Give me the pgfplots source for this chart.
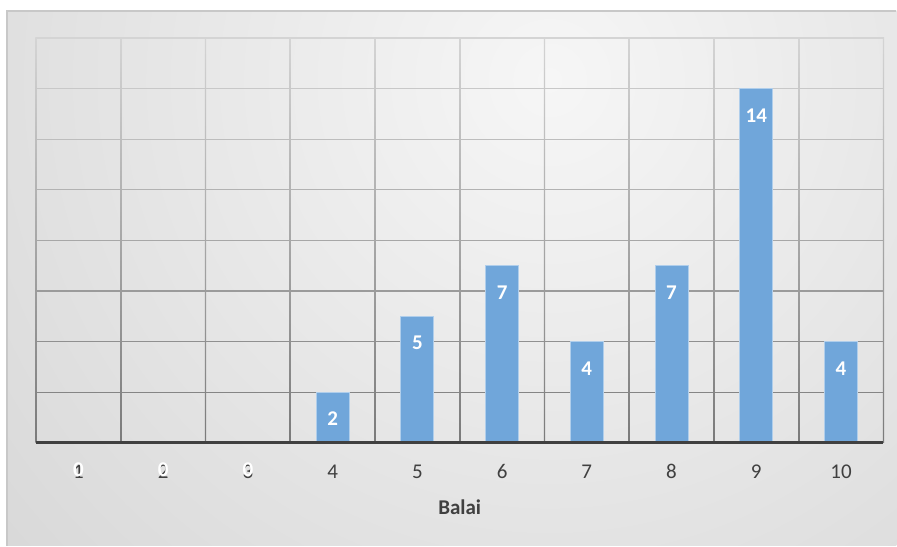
\documentclass[border=0pt]{standalone}
\usepackage{pgfplots}
\pgfplotsset{compat=1.18}
\usepackage{fontspec}
\setmainfont{Carlito}
\definecolor{barblue}{RGB}{112,166,218}
\definecolor{labgray}{RGB}{64,64,64}
\definecolor{bgdark}{RGB}{188,188,188}
\definecolor{bglight}{RGB}{246,246,246}
\definecolor{griddark}{RGB}{122,122,122}
\definecolor{gridlight}{RGB}{212,212,212}
\definecolor{bordergray}{RGB}{200,200,200}
\begin{document}
\begin{tikzpicture}
\fill[white] (0,0) rectangle (448.5pt,273pt);
\begin{scope}
\clip (3.5pt,0) rectangle (448.5pt,267.5pt);
\shade[inner color=bglight, outer color=bgdark] (275pt,233pt) circle (710pt);
\end{scope}
\draw[bordergray, line width=0.6pt] (3.5pt,0) -- (3.5pt,267.5pt) -- (448.5pt,267.5pt);
\begin{axis}[
  at={(18pt,51.5pt)}, anchor=south west,
  scale only axis, width=424pt, height=202.5pt,
  xmin=0.5, xmax=10.5, ymin=0, ymax=16,
  axis on top=true,
  clip=false,
  ybar, bar width=16.5pt, bar shift=0pt,
  axis line style={draw=none},
  ytick={0,2,...,16}, yticklabels={},
  xtick={1,2,3,4,5,6,7,8,9,10}, xticklabels={1,2,3,4,5,6,7,8,9,10},
  major tick length=0pt,
  /pgf/number format/assume math mode=true,
  xticklabel style={font=\fontsize{10.5}{12}\selectfont, text=labgray, anchor=center, yshift=-14.5pt},
  xlabel={Balai},
  xlabel style={font=\bfseries\fontsize{10.5}{12}\selectfont, text=labgray, at={(axis description cs:0.5,0)}, anchor=center, yshift=-32.5pt},
  nodes near coords,
  every node near coord/.append style={anchor=center, yshift=-13.5pt, text=white, font=\bfseries\fontsize{10.5}{12}\selectfont},
]
% grid lines (gradient from light at top to dark at bottom)
\pgfplotsinvokeforeach{0.5,1.5,...,10.5}{
  \shade[top color=gridlight, bottom color=griddark] ([xshift=-0.3pt]axis cs:#1,0) rectangle ([xshift=0.3pt]axis cs:#1,16);
}
\draw[line width=0.6pt, color=gridlight!12!griddark] (axis cs:0.5,2) -- (axis cs:10.5,2);
\draw[line width=0.6pt, color=gridlight!25!griddark] (axis cs:0.5,4) -- (axis cs:10.5,4);
\draw[line width=0.6pt, color=gridlight!37!griddark] (axis cs:0.5,6) -- (axis cs:10.5,6);
\draw[line width=0.6pt, color=gridlight!50!griddark] (axis cs:0.5,8) -- (axis cs:10.5,8);
\draw[line width=0.6pt, color=gridlight!62!griddark] (axis cs:0.5,10) -- (axis cs:10.5,10);
\draw[line width=0.6pt, color=gridlight!75!griddark] (axis cs:0.5,12) -- (axis cs:10.5,12);
\draw[line width=0.6pt, color=gridlight!87!griddark] (axis cs:0.5,14) -- (axis cs:10.5,14);
\draw[line width=0.6pt, color=gridlight] (axis cs:0.5,16) -- (axis cs:10.5,16);
\addplot[draw=none, fill=none] coordinates {(1,0) (2,0) (3,0)};
\addplot[fill=barblue, draw=barblue!55!white, line width=0.4pt] coordinates {(4,2) (5,5) (6,7) (7,4) (8,7) (9,14) (10,4)};
\draw[line width=1.6pt, labgray] (axis cs:0.5,0) -- (axis cs:10.5,0);
\end{axis}
\end{tikzpicture}
\end{document}
